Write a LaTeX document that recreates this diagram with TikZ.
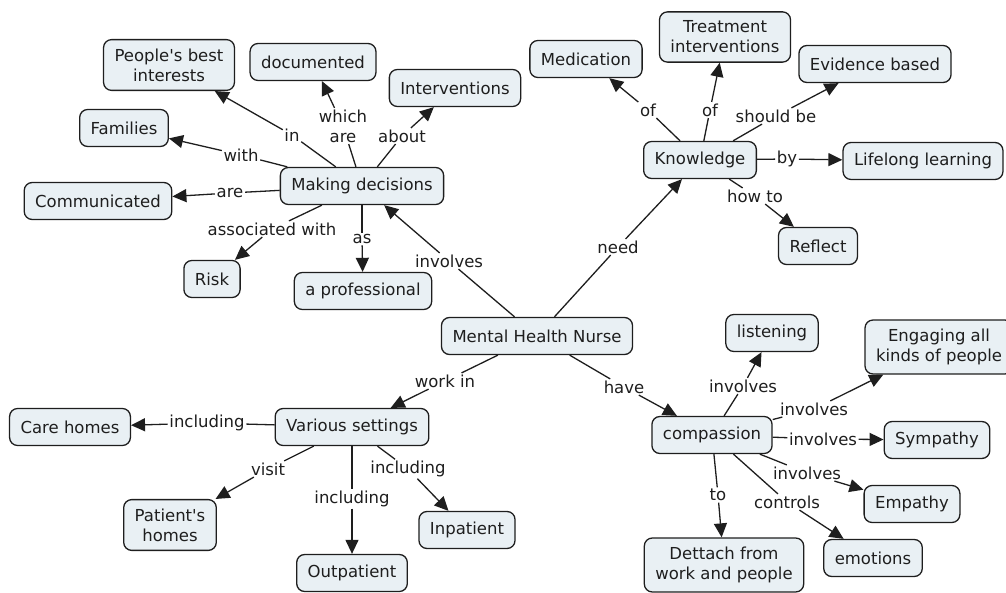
\documentclass[tikz,border=0pt]{standalone}
\usepackage{fontspec}
\setmainfont{DejaVu Sans}
\usetikzlibrary{arrows.meta}
\definecolor{boxfill}{RGB}{233,240,244}
\definecolor{ink}{RGB}{30,30,30}
\begin{document}
\begin{tikzpicture}[x=1pt,y=-1pt,
  concept/.style={draw=ink, line width=1.3pt, fill=boxfill, rounded corners=8pt,
    font=\fontsize{16.5}{20}\selectfont, text=ink, align=center,
    inner xsep=11pt, inner ysep=9pt, minimum height=37pt},
  lbl/.style={font=\fontsize{16.5}{20}\selectfont, text=ink, inner sep=1.5pt,
    align=center},
  link/.style={draw=ink, line width=1.3pt},
  arr/.style={link, -{Triangle[length=14pt,width=13pt]}}]
\useasboundingbox (0,0) rectangle (1006,593);

% concepts
\node[concept] (mhn)   at (537,336) {Mental Health Nurse};
\node[concept] (md)    at (362,186) {Making decisions};
\node[concept] (pbi)   at (169,65)  {People\textquotesingle s best\\interests};
\node[concept] (doc)   at (313,62)  {documented};
\node[concept] (intv)  at (455,88)  {Interventions};
\node[concept] (fam)   at (124,128) {Families};
\node[concept] (comm)  at (98,201)  {Communicated};
\node[concept] (risk)  at (212,279) {Risk};
\node[concept] (prof)  at (363,291) {a professional};
\node[concept] (know)  at (700,160) {Knowledge};
\node[concept] (med)   at (586,59)  {Medication};
\node[concept] (treat) at (725,37)  {Treatment\\interventions};
\node[concept] (evid)  at (875,64)  {Evidence based};
\node[concept] (life)  at (923,161) {Lifelong learning};
\node[concept] (refl)  at (818,246) {Reflect};
\node[concept] (vs)    at (352,427) {Various settings};
\node[concept] (care)  at (70,427)  {Care homes};
\node[concept] (pat)   at (170,525) {Patient\textquotesingle s\\homes};
\node[concept] (outp)  at (352,573) {Outpatient};
\node[concept] (inp)   at (467,530) {Inpatient};
\node[concept] (comp)  at (712,435) {compassion};
\node[concept] (list)  at (772,333) {listening};
\node[concept] (eng)   at (939,347) {Engaging all\\kinds of people};
\node[concept] (symp)  at (937,440) {Sympathy};
\node[concept] (emp)   at (912,504) {Empathy};
\node[concept] (emo)   at (873,558) {emotions};
\node[concept] (det)   at (724,565) {Dettach from\\work and people};

% linking phrases
\node[lbl] (lin)    at (292,135) {in};
\node[lbl] (lwhich) at (343,126) {which\\are};
\node[lbl] (labout) at (402,136) {about};
\node[lbl] (lwith)  at (241,155) {with};
\node[lbl] (lare)   at (230,193) {are};
\node[lbl] (lassoc) at (272,229) {associated with};
\node[lbl] (las)    at (362,239) {as};
\node[lbl] (linv)   at (449,261) {involves};
\node[lbl] (lneed)  at (618,247) {need};
\node[lbl] (lof1)   at (648,110) {of};
\node[lbl] (lof2)   at (710,110) {of};
\node[lbl] (lshould) at (776,116) {should be};
\node[lbl] (lby)    at (787,159) {by};
\node[lbl] (lhow)   at (755,196) {how to};
\node[lbl] (lwork)  at (445,381) {work in};
\node[lbl] (linc1)  at (207,423) {including};
\node[lbl] (lvisit) at (268,469) {visit};
\node[lbl] (linc2)  at (352,499) {including};
\node[lbl] (linc3)  at (408,469) {including};
\node[lbl] (lhave)  at (624,387) {have};
\node[lbl] (linv1)  at (743,386) {involves};
\node[lbl] (linv2)  at (814,409) {involves};
\node[lbl] (linv3)  at (823,439) {involves};
\node[lbl] (linv4)  at (807,473) {involves};
\node[lbl] (lto)    at (718,495) {to};
\node[lbl] (lctrl)  at (787,502) {controls};

% connectors
\draw[link] (md) -- (lin);    \draw[arr] (lin) -- (pbi);
\draw[link] (md) -- (lwhich); \draw[arr] (lwhich) -- (doc);
\draw[link] (md) -- (labout); \draw[arr] (labout) -- (intv);
\draw[link] (md) -- (lwith);  \draw[arr] (lwith) -- (fam);
\draw[link] (md) -- (lare);   \draw[arr] (lare) -- (comm);
\draw[link] (md) -- (lassoc); \draw[arr] (lassoc) -- (risk);
\draw[link] (md) -- (las);    \draw[arr] (las) -- (prof);
\draw[link] (mhn) -- (linv);  \draw[arr] (linv) -- (md);
\draw[link] (mhn) -- (lneed); \draw[arr] (lneed) -- (know);
\draw[link] (know) -- (lof1); \draw[arr] (lof1) -- (med);
\draw[link] (know) -- (lof2); \draw[arr] (lof2) -- (treat);
\draw[link] (know) -- (lshould); \draw[arr] (lshould) -- (evid);
\draw[link] (know) -- (lby);  \draw[arr] (lby) -- (life);
\draw[link] (know) -- (lhow); \draw[arr] (lhow) -- (refl);
\draw[link] (mhn) -- (lwork); \draw[arr] (lwork) -- (vs);
\draw[link] (vs) -- (linc1);  \draw[arr] (linc1) -- (care);
\draw[link] (vs) -- (lvisit); \draw[arr] (lvisit) -- (pat);
\draw[link] (vs) -- (linc2);  \draw[arr] (linc2) -- (outp);
\draw[link] (vs) -- (linc3);  \draw[arr] (linc3) -- (inp);
\draw[link] (mhn) -- (lhave); \draw[arr] (lhave) -- (comp);
\draw[link] (comp) -- (linv1); \draw[arr] (linv1) -- (list);
\draw[link] (comp) -- (linv2); \draw[arr] (linv2) -- (eng);
\draw[link] (comp) -- (linv3); \draw[arr] (linv3) -- (symp);
\draw[link] (comp) -- (linv4); \draw[arr] (linv4) -- (emp);
\draw[link] (comp) -- (lto);   \draw[arr] (lto) -- (det);
\draw[link] (comp) -- (lctrl); \draw[arr] (lctrl) -- (emo);
\end{tikzpicture}
\end{document}
